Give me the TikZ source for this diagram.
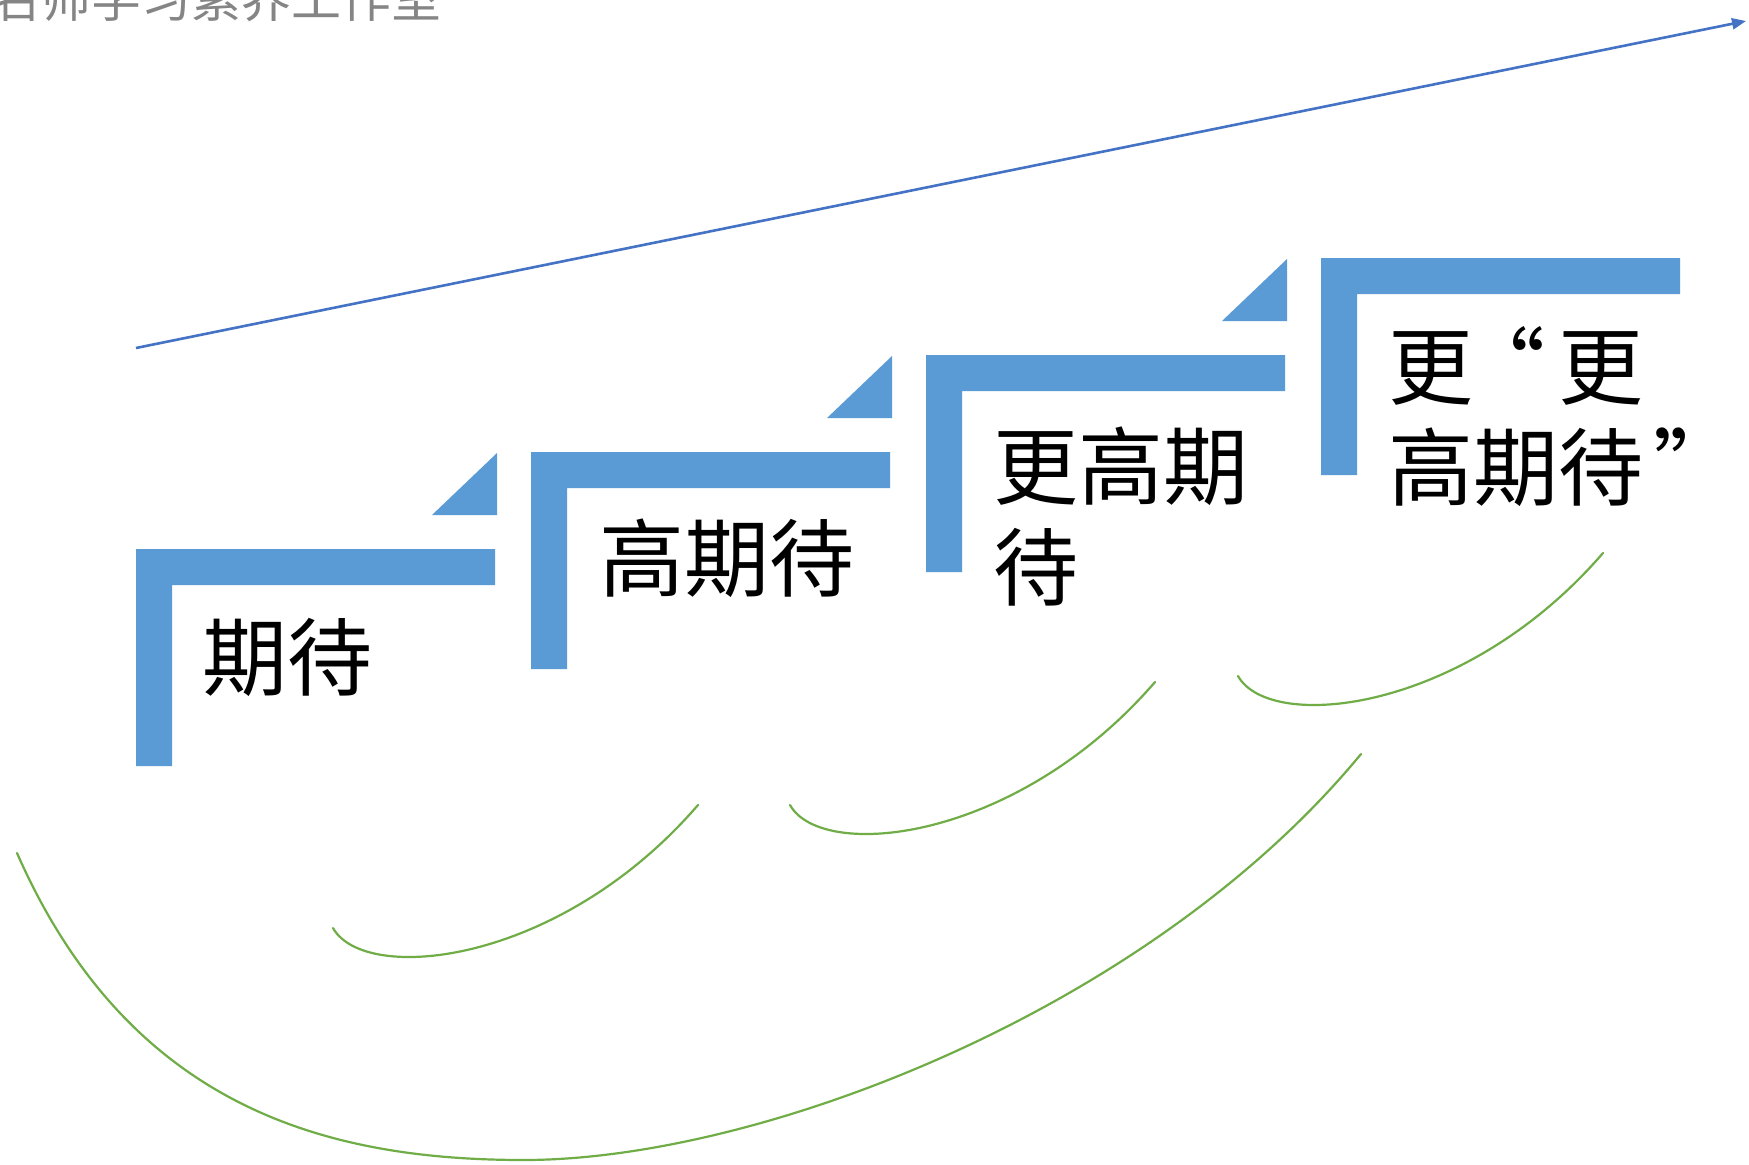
\documentclass[tikz,border=0pt]{standalone}
\usepackage{fontspec}
\newfontfamily\cjk{Noto Sans CJK SC}
\usetikzlibrary{arrows.meta}
\definecolor{barblue}{HTML}{5B9BD5}
\definecolor{lineblue}{HTML}{4472C4}
\definecolor{arcgreen}{HTML}{70AD47}
\definecolor{wmgray}{HTML}{858585}
\tikzset{
  stepbar/.style={fill=barblue},
  steplabel/.style={anchor=west, inner sep=0pt, align=left, text=black,
    font=\cjk\fontsize{85}{101}\selectfont},
  arcline/.style={draw=arcgreen, line width=2.2pt, line cap=round},
  trendline/.style={draw=lineblue, line width=2.6pt,
    -{Triangle[length=14pt,width=11pt]}},
  watermark/.style={anchor=base east, inner sep=0pt, text=wmgray,
    font=\cjk\fontsize{50}{60}\selectfont}
}
\begin{document}
\begin{tikzpicture}[x=1pt,y=-1pt]
\useasboundingbox[fill=white] (0,0) rectangle (1749,1165);

% watermark (cut by the top edge, as in the reference)
\node[watermark] (wm) at (442,17) {名师学习素养工作室};

% trend arrow
\coordinate (tstart) at (136,348);
\coordinate (tend) at (1746,21);
\draw[trendline] (tstart) -- (tend);

% steps
\foreach \i in {0,1,2,3}{
  \begin{scope}[shift={({136+395*\i},{549-97*\i})}]
    \fill[stepbar] (0,0) -- (359,0) -- (359,36) -- (36,36) -- (36,217) -- (0,217) -- cycle;
    \ifnum\i<3
      \fill[stepbar] (296,-34) -- (361,-34) -- (361,-96) -- cycle;
    \fi
  \end{scope}
}

% labels
\node[steplabel] (s1) at (202,657) {期待};
\node[steplabel] (s2) at (599,558) {高期待};
\node[steplabel] (s3) at (993,516.5) {更高期\\待};
\node[steplabel] (s4) at (1388,417) {更\makebox[1em][r]{“\hspace{0.15em}}更\\高期待\makebox[1em][l]{\hspace{0.12em}”}};

% green arcs
\draw[arcline] (17,853) .. controls (130,1110) and (330,1160) .. (524,1160)
               .. controls (760,1160) and (1150,1010) .. (1361,754);
\foreach \sx/\sy in {333/928, 790/805, 1238/676}{
  \draw[arcline] (\sx,\sy) .. controls ({\sx+32},{\sy+57}) and ({\sx+227},{\sy+37}) .. ({\sx+365},{\sy-123});
}
\end{tikzpicture}
\end{document}
